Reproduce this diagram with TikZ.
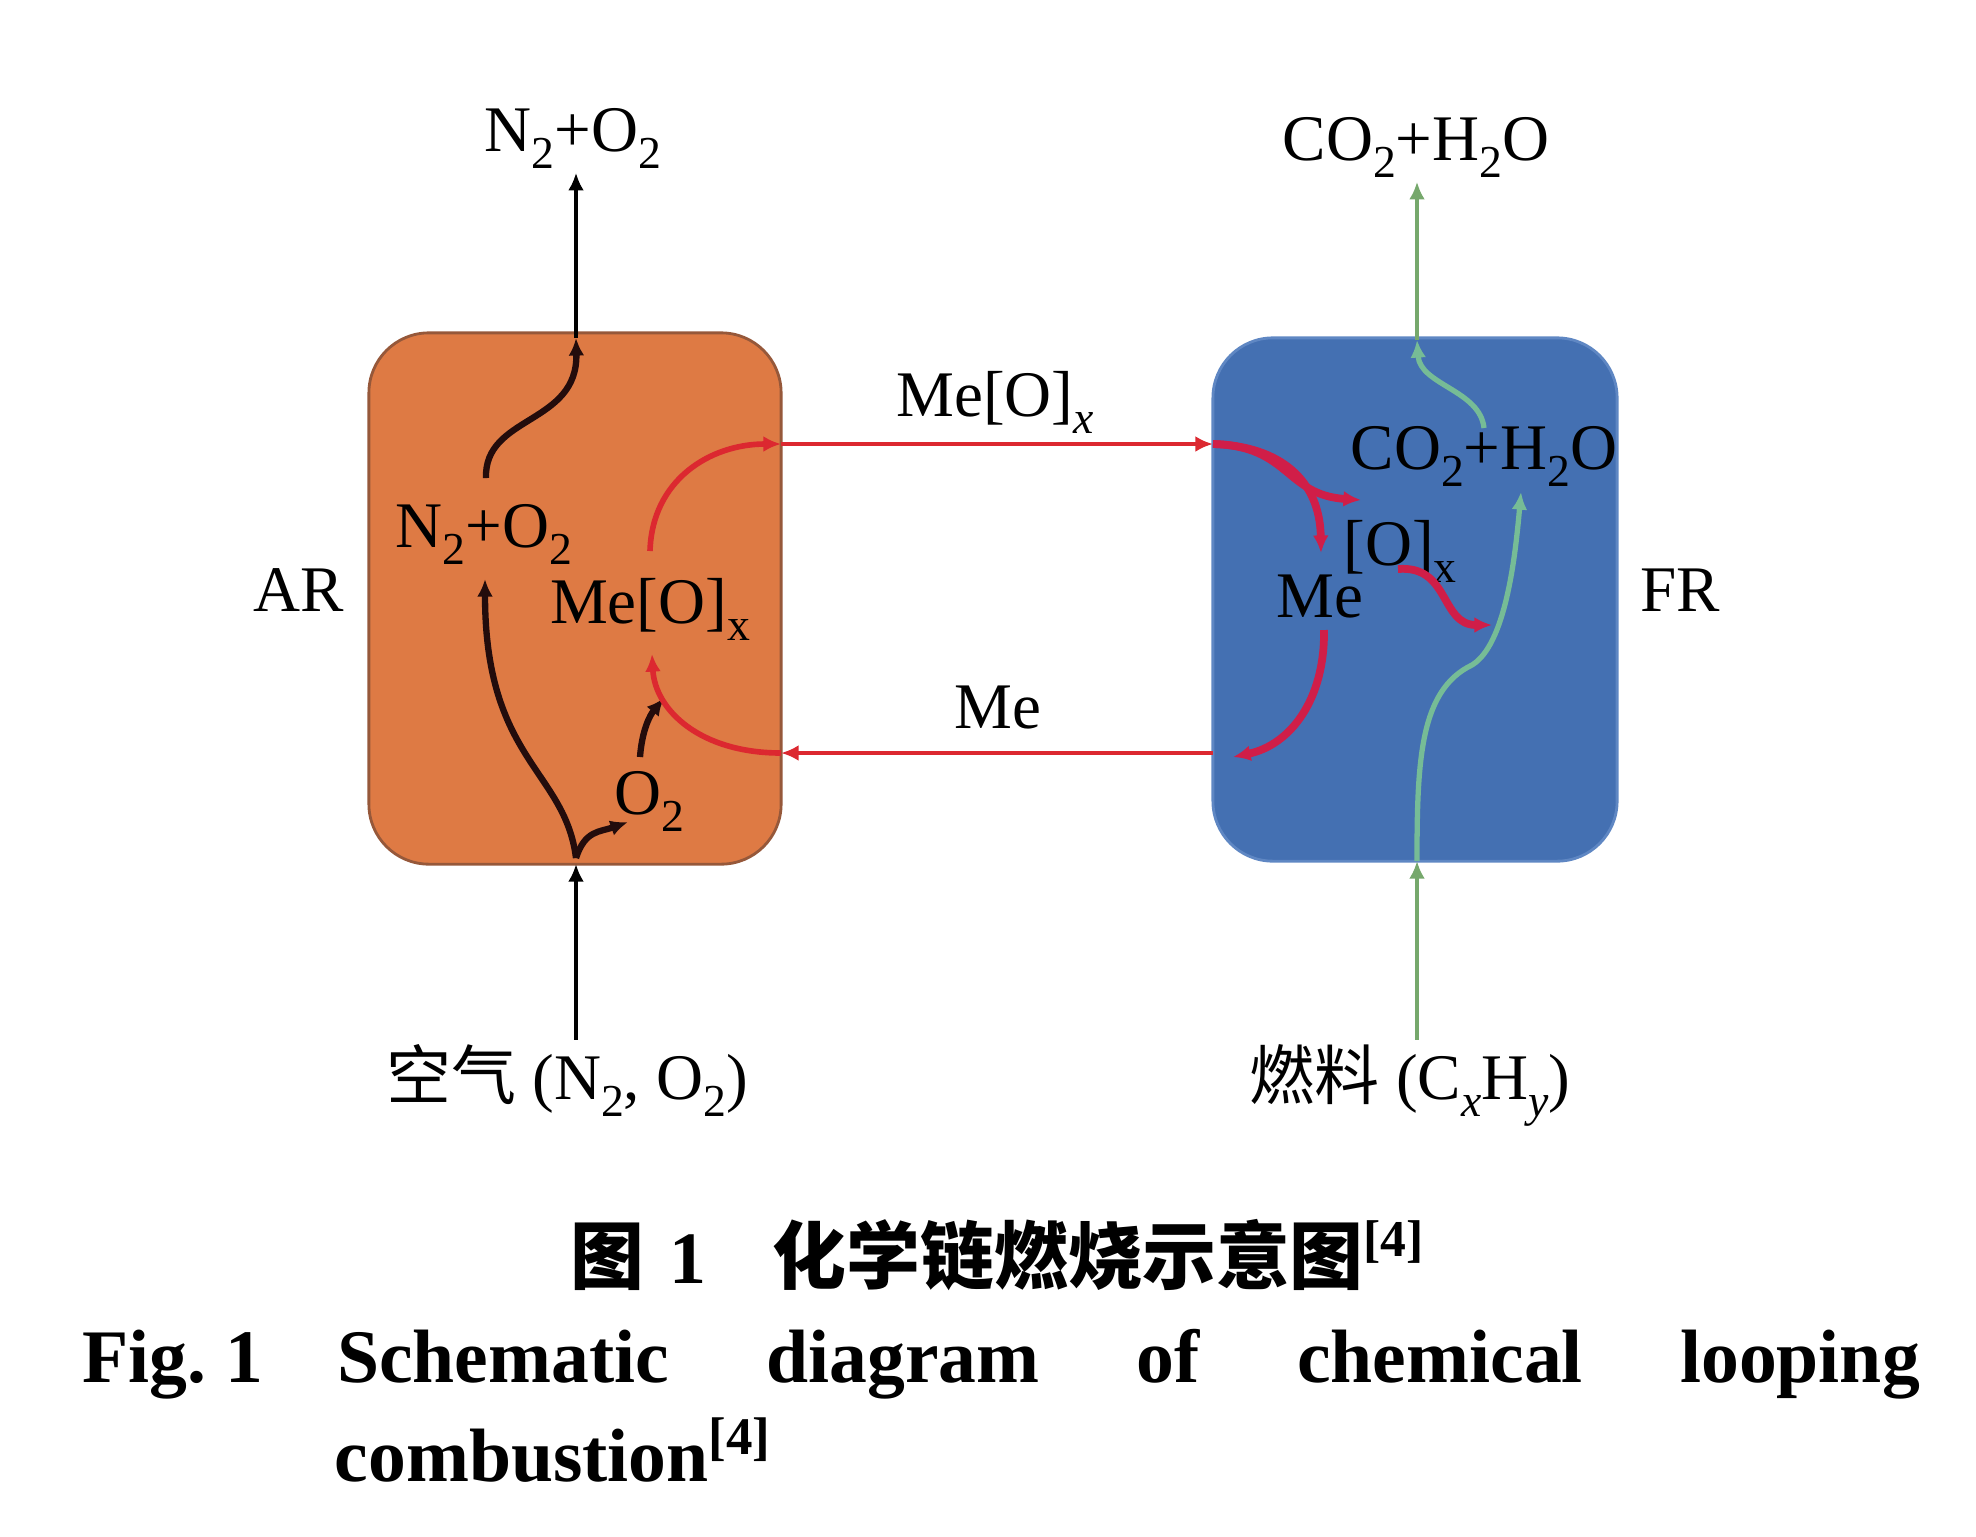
\documentclass[tikz,border=0pt]{standalone}
\usepackage{fontspec}
\setmainfont{Liberation Serif}
\newfontfamily\cjk{Noto Sans CJK SC}
\usetikzlibrary{arrows.meta}
\definecolor{orangefill}{RGB}{222,122,68}
\definecolor{orangeedge}{RGB}{150,88,58}
\definecolor{bluefill}{RGB}{68,112,178}
\definecolor{blueedge}{RGB}{95,135,195}
\definecolor{redline}{RGB}{220,40,48}
\definecolor{redin}{RGB}{208,30,72}
\definecolor{greenout}{RGB}{118,168,108}
\definecolor{greenin}{RGB}{118,188,150}
\definecolor{blackcurve}{RGB}{35,12,12}
\newcommand\dn[1]{\raisebox{-5pt}{\fontsize{13}{13}\selectfont #1}}
\begin{document}
\begin{tikzpicture}[x=0.01cm,y=-0.01cm,
  box/.style={draw, rounded corners=0.6cm, line width=0.8pt, inner sep=0pt},
  lbl/.style={font=\fontsize{18.5}{22}\selectfont, inner sep=1pt, anchor=base},
  tip/.style={-{Latex[length=5pt,width=4.5pt]}},
  blkline/.style={tip, line width=1pt, draw=black},
  blkc/.style={tip, line width=1.8pt, draw=blackcurve},
  redl/.style={tip, line width=1.3pt, draw=redline},
  redc/.style={tip, line width=1.6pt, draw=redline},
  redb/.style={tip, line width=2.2pt, draw=redin},
  grnl/.style={tip, line width=1.3pt, draw=greenout},
  grnc/.style={tip, line width=1.5pt, draw=greenin}]
\useasboundingbox (0,0) rectangle (1976,1536);

% reactors
\node[box, fill=orangefill, draw=orangeedge, minimum width=4.12cm, minimum height=5.31cm] (ar) at (575,598.5) {};
\node[box, fill=bluefill, draw=blueedge, minimum width=4.04cm, minimum height=5.23cm] (fr) at (1415,599.5) {};

% outside labels
\node[lbl] (arlab) at (299,611) {AR};
\node[lbl] (frlab) at (1680,611) {FR};
\node[lbl] (topn) at (573,151) {N\dn{2}+O\dn{2}};
\node[lbl] (topc) at (1416,160) {CO\dn{2}+H\dn{2}O};
\node[lbl] (mox) at (995,416) {Me[O]\dn{\itshape x}};
\node[lbl] (me) at (998,728) {Me};
\node[lbl] (air) at (567,1099) {{\cjk 空气} (N\dn{2}, O\dn{2})};
\node[lbl] (fuel) at (1410,1099) {{\cjk 燃料} (C\dn{\itshape x}H\dn{\itshape y})};

% inside labels
\node[lbl] (n2in) at (484,547) {N\dn{2}+O\dn{2}};
\node[lbl] (moxin) at (650,623) {Me[O]\dn{x}};
\node[lbl] (o2in) at (649,814) {O\dn{2}};
\node[lbl] (co2in) at (1484,469) {CO\dn{2}+H\dn{2}O};
\node[lbl] (oxin) at (1400,565) {[O]\dn{x}};
\node[lbl] (mein) at (1320,617) {Me};

% named points
\coordinate (arTop) at (576,338);
\coordinate (arBot) at (576,864);
\coordinate (arBotIn) at (576,858);
\coordinate (n2Top) at (486,478);
\coordinate (n2Bot) at (485,579);
\coordinate (o2Left) at (628,822);
\coordinate (o2Top) at (640,757);
\coordinate (moxBot) at (664,698);
\coordinate (moxTop) at (650,551);
\coordinate (moxBot2) at (652,654);
\coordinate (arE1) at (781,444);
\coordinate (arE2) at (781,753);
\coordinate (frW1) at (1213,444);
\coordinate (frW2) at (1213,753);
\coordinate (meTop) at (1321,553);
\coordinate (meBot) at (1324,630);
\coordinate (meOut) at (1233,757);
\coordinate (oxLeft) at (1361,500);
\coordinate (oxBot) at (1398,569);
\coordinate (grnHit) at (1492,625);
\coordinate (frTop) at (1417,340);
\coordinate (frBot) at (1417,861);
\coordinate (co2Bot) at (1521,492);
\coordinate (co2Top) at (1484,428);

% air reactor flows
\draw[blkline] (arBot |- air.north) -- (arBot);
\draw[blkline] (arTop) -- (arTop |- topn.south);
\draw[blkc] (arBotIn) .. controls (565,770) and (485,760) .. (n2Bot);
\draw[blkc] (arBotIn) .. controls (585,830) and (600,832) .. (o2Left);
\draw[blkc] (o2Top) .. controls (642,730) and (650,715) .. (moxBot);
\draw[blkc] (n2Top) .. controls (484,415) and (578,425) .. (arTop);

% oxygen carrier loop
\draw[redc] (moxTop) .. controls (652,480) and (710,444) .. (arE1);
\draw[redl] (arE1) -- (frW1);
\draw[redl] (frW2) -- (arE2);
\draw[redc] (arE2) .. controls (700,753) and (655,710) .. (moxBot2);

% fuel reactor flows
\draw[redb] (frW1) .. controls (1280,446) and (1320,480) .. (meTop);
\draw[redb] (frW1) .. controls (1290,446) and (1285,495) .. (oxLeft);
\draw[redb] (oxBot) .. controls (1450,565) and (1440,625) .. (grnHit);
\draw[redb] (meBot) .. controls (1325,700) and (1290,745) .. (meOut);

\draw[grnl] (frBot |- fuel.north) -- (frBot);
\draw[grnl] (frTop) -- (frTop |- topc.south);
\draw[grnc] (frBot) .. controls (1417,760) and (1420,690) .. (1472,665) .. controls (1505,645) and (1515,560) .. (co2Bot);
\draw[grnc] (co2Top) .. controls (1480,390) and (1420,385) .. (frTop);

% caption
\node[anchor=base west, inner sep=0pt, font=\fontsize{21}{25}\selectfont\bfseries] (capcn) at (570,1283)
  {{\cjk 图}\hspace{7pt}1\hspace{19pt}{\cjk 化学链燃烧示意图}\textsuperscript{[4]}};
\node[anchor=base west, inner sep=0pt, font=\fontsize{21.5}{25}\selectfont\bfseries] (capen) at (82,1382)
  {\hbox to 18.36cm{Fig.~1\hspace{21pt}Schematic\hfill diagram\hfill of\hfill chemical\hfill looping}};
\node[anchor=base west, inner sep=0pt, font=\fontsize{21.5}{25}\selectfont\bfseries] (capen2) at (334,1481)
  {combustion\textsuperscript{[4]}};
\end{tikzpicture}
\end{document}
